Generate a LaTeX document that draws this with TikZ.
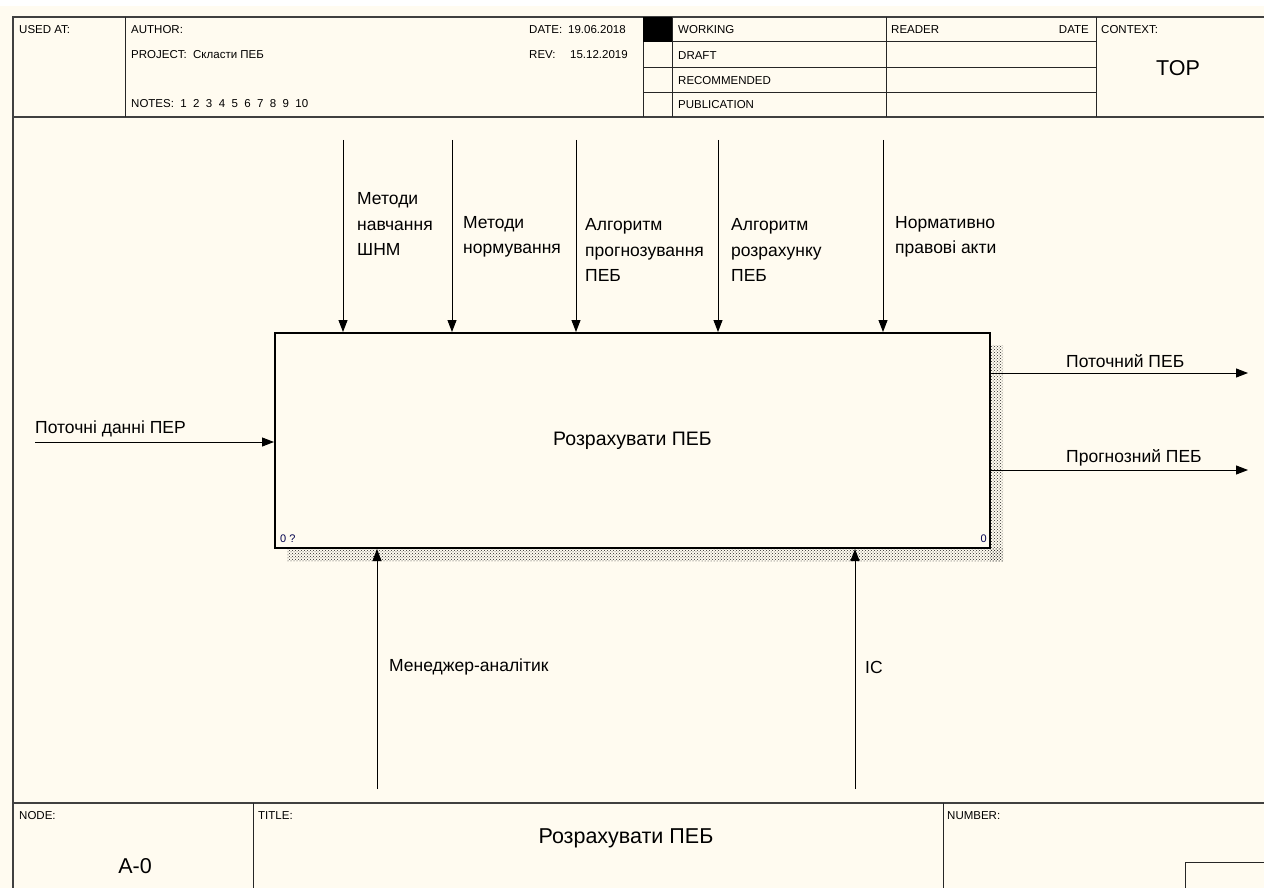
\documentclass[tikz,border=0pt]{standalone}
\usepackage{fontspec}
\setmainfont{Liberation Sans}
\usetikzlibrary{arrows.meta, positioning, calc, patterns}
\definecolor{paper}{RGB}{255,251,240}

\begin{document}
\begin{tikzpicture}[x=1pt, y=-1pt,
  frame/.style={draw=black!75, line width=1.3pt},
  rule/.style={draw=black!85, line width=1pt},
  hdr/.style={anchor=west, inner sep=0pt, font=\fontsize{11.5}{13}\selectfont},
  big/.style={inner sep=0pt, font=\fontsize{21.5}{24}\selectfont},
  lbl/.style={anchor=west, inner sep=0pt, align=left, font=\fontsize{17.5}{25.5}\selectfont},
  flow/.style={-{Triangle[length=12pt, width=9pt]}, line width=1pt},
]

\useasboundingbox (0,0) rectangle (1264,888);
\fill[white] (0,0) rectangle (1264,888);
\fill[paper] (0,6) rectangle (1264,888);

% Frame and header
\draw[frame] (13,888) -- (13,17) -- (1264,17);
\draw[frame] (13,117) -- (1264,117);
\draw[frame] (13,803) -- (1264,803);
\draw[rule] (125,17) -- (125,117);
\draw[rule] (643,17) -- (643,117);
\draw[rule] (672,17) -- (672,117);
\draw[rule] (886,17) -- (886,117);
\draw[rule] (1096,17) -- (1096,117);
\draw[rule] (643,42) -- (1096,42);
\draw[rule] (643,68) -- (1096,68);
\draw[rule] (643,93) -- (1096,93);
\fill (643,17) rectangle (672,42);

\node[hdr] (usedat) at (19,30) {USED AT:};
\node[hdr] (author) at (131,30) {AUTHOR:};
\node[hdr] (project) at (131,55) {PROJECT:~~Скласти ПЕБ};
\node[hdr] (notes) at (131,104) {NOTES:~~1~~2~~3~~4~~5~~6~~7~~8~~9~~10};
\node[hdr] (date) at (529,30) {DATE:};
\node[hdr] (dateval) at (568,30) {19.06.2018};
\node[hdr] (rev) at (529,55) {REV:};
\node[hdr] (revval) at (570,55) {15.12.2019};
\node[hdr] (working) at (678,30) {WORKING};
\node[hdr] (draft) at (678,56) {DRAFT};
\node[hdr] (recommended) at (678,81) {RECOMMENDED};
\node[hdr] (publication) at (678,105) {PUBLICATION};
\node[hdr] (reader) at (891,30) {READER};
\node[hdr, anchor=east] (readerdate) at (1089,30) {DATE};
\node[hdr] (context) at (1101,30) {CONTEXT:};
\node[big] (top) at (1178,68) {TOP};

% Activity box with its shadow
\fill[pattern=crosshatch dots, pattern color=black!85] (990,345) rectangle (1003,561);
\fill[pattern=crosshatch dots, pattern color=black!85] (287,548) rectangle (1003,561);
\node[draw, line width=2pt, fill=paper, minimum width=715pt, minimum height=215pt,
  inner sep=0pt, font=\fontsize{19.5}{22}\selectfont] (proc) at (632.5,440.5) {Розрахувати ПЕБ};
\node[hdr, anchor=south west, font=\fontsize{11}{12}\selectfont, text=blue!30!black] (boxid) at (280,543) {0 ?};
\node[hdr, anchor=south east, font=\fontsize{11}{12}\selectfont, text=blue!30!black] (boxnum) at (987,543) {0};

% Controls
\coordinate (c1) at (343,140);
\coordinate (c2) at (452,140);
\coordinate (c3) at (576,140);
\coordinate (c4) at (718,140);
\coordinate (c5) at (883,140);
\draw[flow] (c1) -- (c1 |- proc.north);
\draw[flow] (c2) -- (c2 |- proc.north);
\draw[flow] (c3) -- (c3 |- proc.north);
\draw[flow] (c4) -- (c4 |- proc.north);
\draw[flow] (c5) -- (c5 |- proc.north);
\node[lbl] (ctl1) at (357,224) {Методи\\навчання\\ШНМ};
\node[lbl] (ctl2) at (463,237) {Методи\\нормування};
\node[lbl] (ctl3) at (585,250) {Алгоритм\\прогнозування\\ПЕБ};
\node[lbl] (ctl4) at (731,250) {Алгоритм\\розрахунку\\ПЕБ};
\node[lbl] (ctl5) at (895,237) {Нормативно\\правові акти};

% Input
\coordinate (in1) at (35,442);
\draw[flow] (in1) -- (in1 -| proc.west);
\node[lbl] (inlbl) at (35,429) {Поточні данні ПЕР};

% Outputs
\coordinate (o1) at (1248,373);
\coordinate (o2) at (1248,470);
\draw[flow] (proc.east |- o1) -- (o1);
\draw[flow] (proc.east |- o2) -- (o2);
\node[lbl] (out1) at (1066,361) {Поточний ПЕБ};
\node[lbl] (out2) at (1066,458) {Прогнозний ПЕБ};

% Mechanisms
\coordinate (m1) at (377,789);
\coordinate (m2) at (855,789);
\draw[flow] (m1) -- (m1 |- proc.south);
\draw[flow] (m2) -- (m2 |- proc.south);
\node[lbl] (mech1) at (389,667) {Менеджер-аналітик};
\node[lbl] (mech2) at (865,667) {IC};

% Footer
\draw[rule] (253,803) -- (253,888);
\draw[rule] (943,803) -- (943,888);
\draw[rule] (1185,888) -- (1185,862) -- (1264,862);
\node[hdr] (nodelbl) at (19,816) {NODE:};
\node[hdr] (titlelbl) at (258,816) {TITLE:};
\node[hdr] (numberlbl) at (947,816) {NUMBER:};
\node[big] (nodeval) at (135,866) {A-0};
\node[big] (titleval) at (626,838) {Розрахувати ПЕБ};

\end{tikzpicture}
\end{document}
